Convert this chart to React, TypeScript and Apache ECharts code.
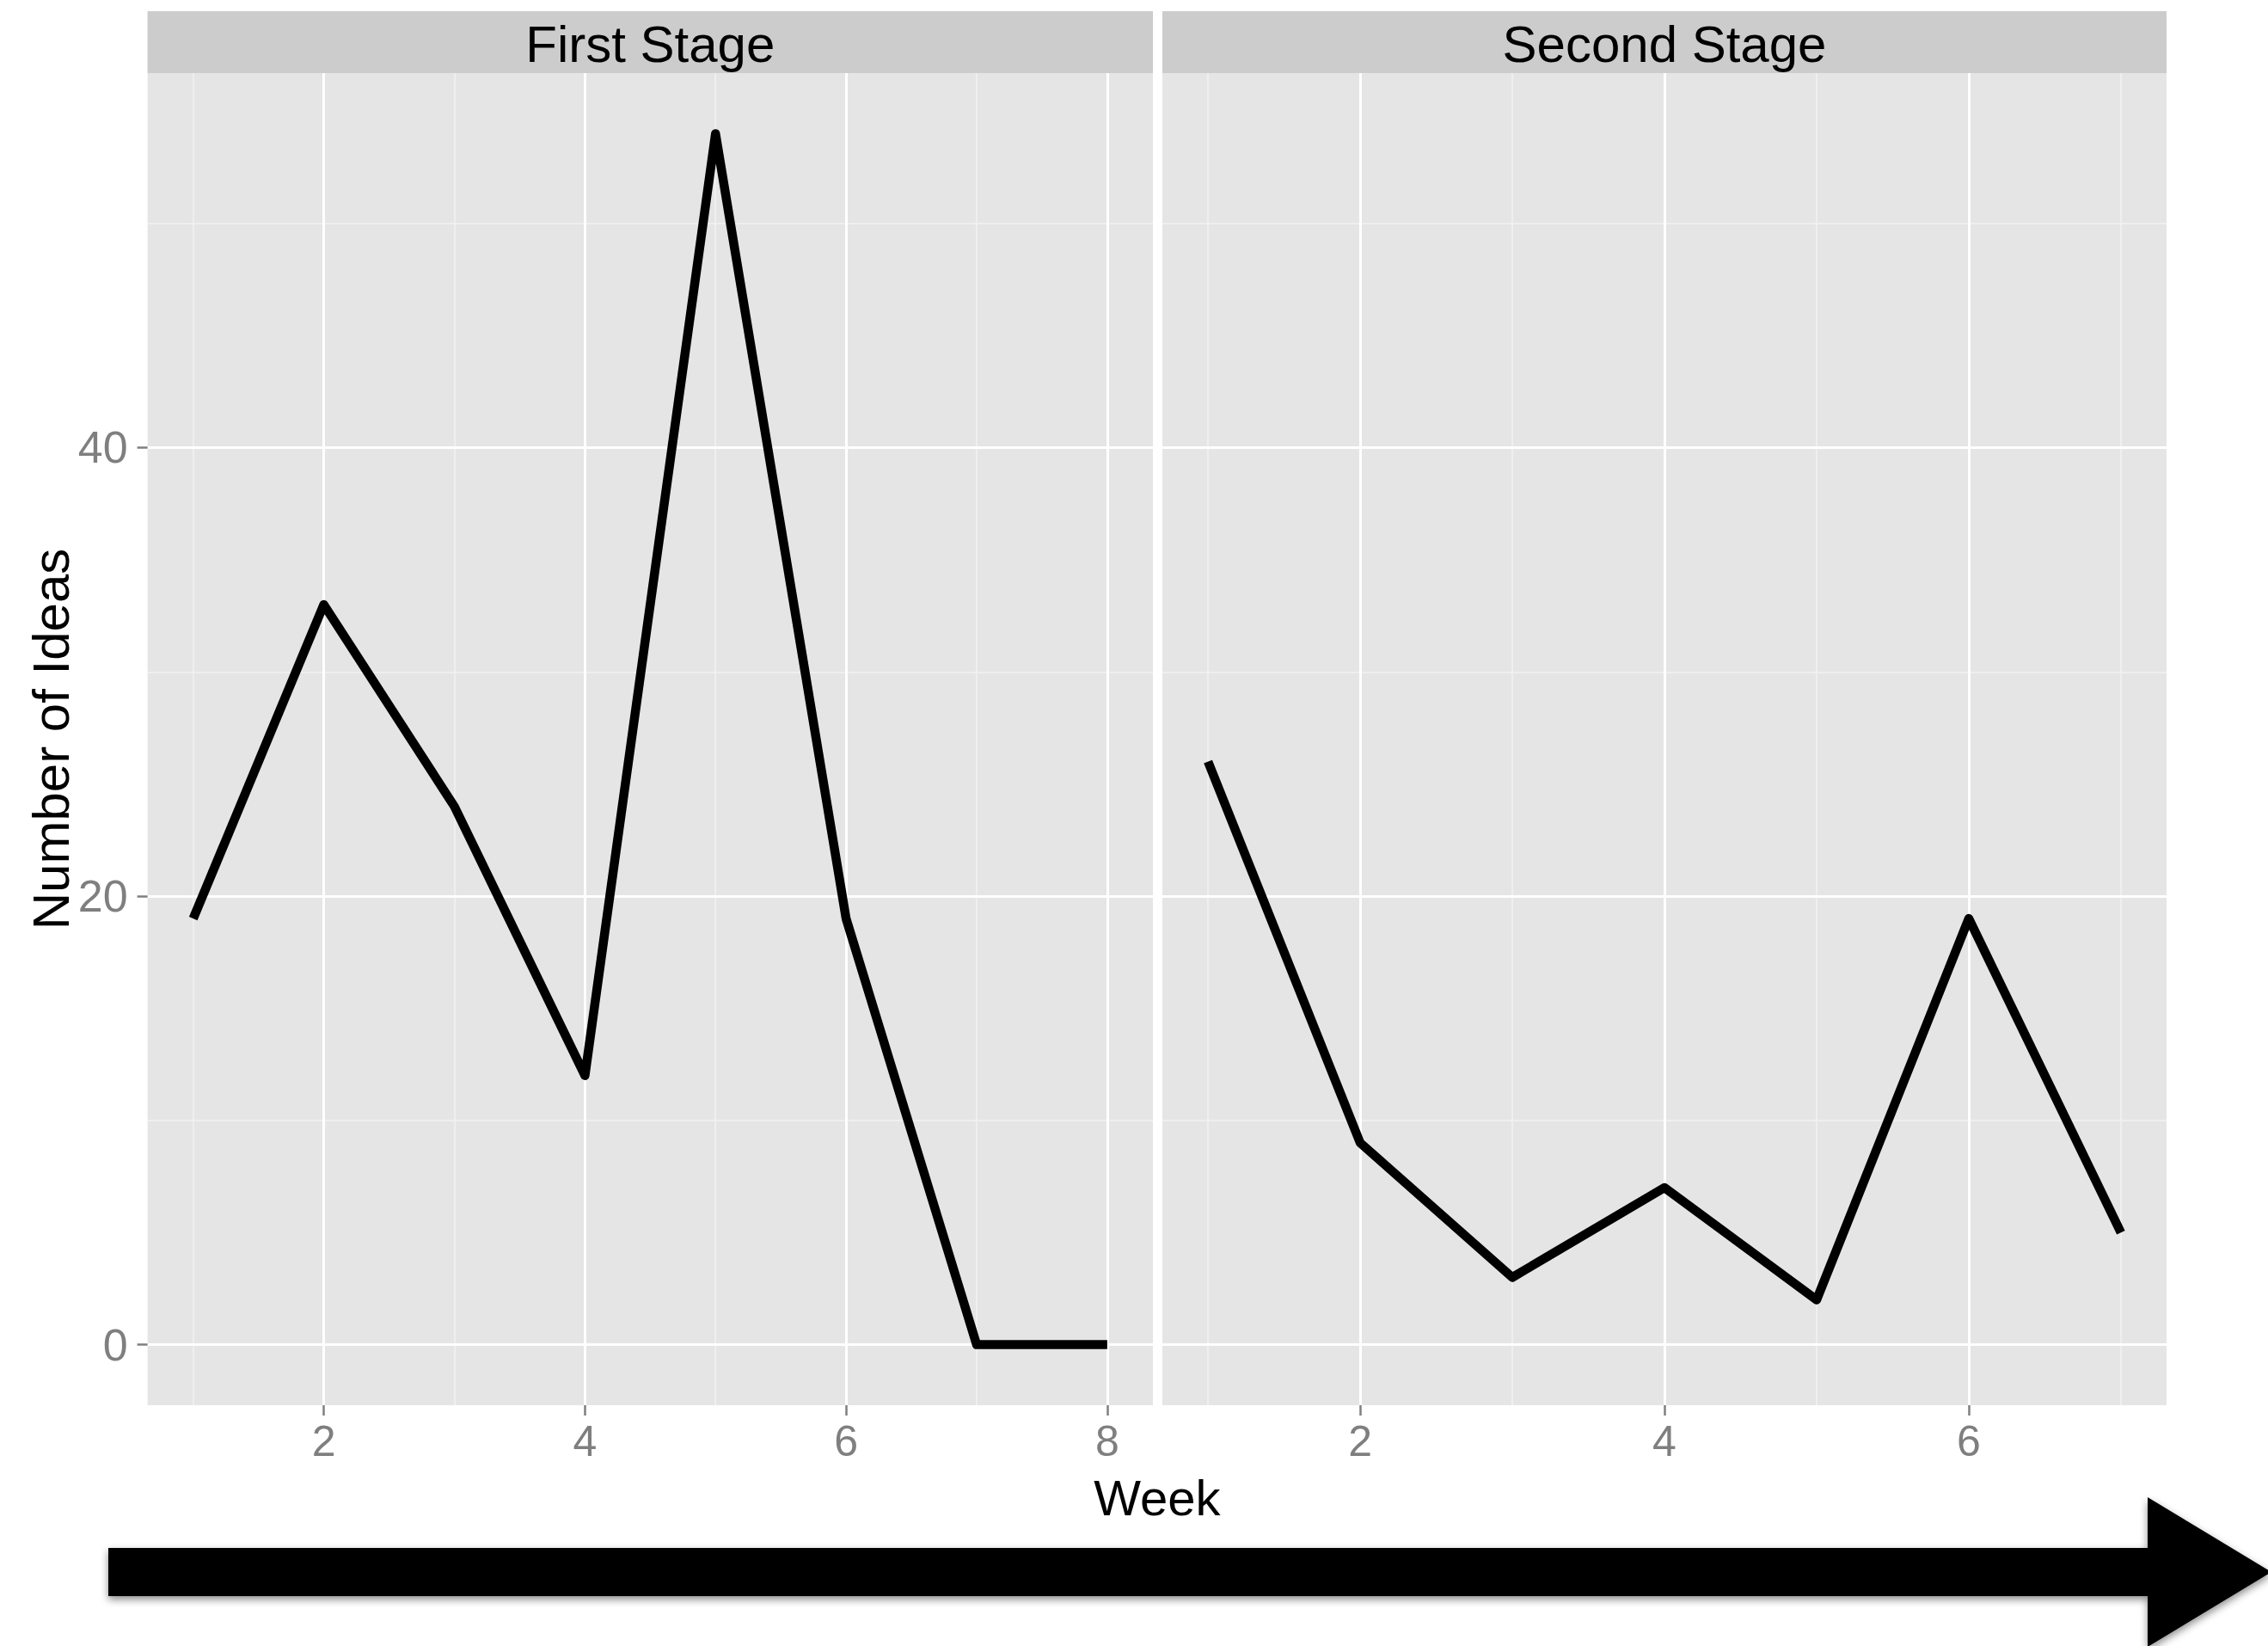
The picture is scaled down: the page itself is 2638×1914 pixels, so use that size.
import React, { useEffect, useRef } from "react";
import * as echarts from "echarts";

const W = 2638;
const H = 1914;

const panels = ["First Stage", "Second Stage"];
const weeksFirst = [1, 2, 3, 4, 5, 6, 7, 8];
const ideasFirst = [19, 33, 24, 12, 54, 19, 0, 0];
const weeksSecond = [1, 2, 3, 4, 5, 6, 7];
const ideasSecond = [26, 9, 3, 7, 2, 19, 5];

const xMajorFirst = [2, 4, 6, 8];
const xMinorFirst = [1, 3, 5, 7];
const xMajorSecond = [2, 4, 6];
const xMinorSecond = [1, 3, 5, 7];
const yMajor = [0, 20, 40];
const yMinor = [10, 30, 50];

const FONT = "'Liberation Sans', Arial, Helvetica, sans-serif";
const TICK_GREY = "#7f7f7f";

export default function App() {
  const ref = useRef<HTMLDivElement>(null);

  useEffect(() => {
    document.body.style.margin = "0";
    if (!ref.current) return;
    const chart = echarts.init(ref.current, undefined, { renderer: "svg" });

    const gridTop = 85;
    const gridH = 1549;
    const grids = [
      { left: 171.6, top: gridTop, width: 1169.4, height: gridH },
      { left: 1352, top: gridTop, width: 1168, height: gridH },
    ];
    const xRanges = [
      [0.65, 8.35],
      [0.7, 7.3],
    ];
    const yRange = [-2.7, 56.7];

    const majorLine = { show: true, lineStyle: { color: "#ffffff", width: 3 } };
    const minorLine = { show: true, lineStyle: { color: "#f2f2f2", width: 1.5 } };

    const xAxes: any[] = [];
    const yAxes: any[] = [];
    [0, 1].forEach((g) => {
      const major = g === 0 ? xMajorFirst : xMajorSecond;
      const minor = g === 0 ? xMinorFirst : xMinorSecond;
      xAxes.push({
        type: "value",
        gridIndex: g,
        position: "bottom",
        min: xRanges[g][0],
        max: xRanges[g][1],
        z: 1,
        axisLine: { show: false, onZero: false },
        axisTick: {
          show: true,
          customValues: major,
          length: 12,
          lineStyle: { color: TICK_GREY, width: 2.5 },
        },
        axisLabel: {
          show: true,
          customValues: major,
          margin: 20,
          color: TICK_GREY,
          fontSize: 50,
          lineHeight: 44,
          fontFamily: FONT,
        },
        splitLine: majorLine,
      });
      xAxes.push({
        type: "value",
        gridIndex: g,
        position: "top",
        min: xRanges[g][0],
        max: xRanges[g][1],
        z: 0,
        axisLine: { show: false, onZero: false },
        axisTick: { show: false, customValues: minor },
        axisLabel: { show: false, customValues: minor },
        splitLine: minorLine,
      });
      yAxes.push({
        type: "value",
        gridIndex: g,
        position: "left",
        min: yRange[0],
        max: yRange[1],
        z: 1,
        axisLine: { show: false, onZero: false },
        axisTick: {
          show: g === 0,
          customValues: yMajor,
          length: 12,
          lineStyle: { color: TICK_GREY, width: 2.5 },
        },
        axisLabel: {
          show: g === 0,
          customValues: yMajor,
          margin: 23,
          color: TICK_GREY,
          fontSize: 52,
          lineHeight: 44,
          fontFamily: FONT,
        },
        splitLine: majorLine,
      });
      yAxes.push({
        type: "value",
        gridIndex: g,
        position: "right",
        min: yRange[0],
        max: yRange[1],
        z: 0,
        axisLine: { show: false, onZero: false },
        axisTick: { show: false, customValues: yMinor },
        axisLabel: { show: false, customValues: yMinor },
        splitLine: minorLine,
      });
    });

    const lineStyle = { color: "#000000", width: 10.5, cap: "butt", join: "round" };

    const stripY = 13;
    const stripH = 72;

    const option: any = {
      animation: false,
      backgroundColor: "#ffffff",
      grid: grids.map((g) => ({
        ...g,
        show: true,
        backgroundColor: "#e5e5e5",
        borderWidth: 0,
        containLabel: false,
      })),
      xAxis: xAxes,
      yAxis: yAxes,
      series: [
        {
          type: "line",
          name: panels[0],
          xAxisIndex: 0,
          yAxisIndex: 0,
          z: 3,
          data: weeksFirst.map((w, i) => [w, ideasFirst[i]]),
          showSymbol: false,
          symbol: "none",
          lineStyle,
        },
        {
          type: "line",
          name: panels[1],
          xAxisIndex: 2,
          yAxisIndex: 2,
          z: 3,
          data: weeksSecond.map((w, i) => [w, ideasSecond[i]]),
          showSymbol: false,
          symbol: "none",
          lineStyle,
        },
      ],
      graphic: [
        ...grids.map((g) => ({
          type: "rect",
          shape: { x: g.left, y: stripY, width: g.width, height: stripH },
          style: { fill: "#cccccc" },
          z: 1,
        })),
        ...grids.map((g, i) => ({
          type: "text",
          x: g.left + g.width / 2,
          y: stripY + stripH / 2 + 2,
          z: 2,
          style: {
            text: panels[i],
            fill: "#000000",
            fontSize: 60,
            lineHeight: 60,
            fontFamily: FONT,
            align: "center",
            verticalAlign: "middle",
          },
        })),
        {
          type: "text",
          x: 59,
          y: gridTop + gridH / 2,
          rotation: Math.PI / 2,
          z: 2,
          style: {
            text: "Number of Ideas",
            fill: "#000000",
            fontSize: 60,
            lineHeight: 60,
            fontFamily: FONT,
            align: "center",
            verticalAlign: "middle",
          },
        },
        {
          type: "text",
          x: (grids[0].left + grids[1].left + grids[1].width) / 2,
          y: 1741,
          z: 2,
          style: {
            text: "Week",
            fill: "#000000",
            fontSize: 58,
            lineHeight: 40,
            fontFamily: FONT,
            align: "center",
            verticalAlign: "middle",
          },
        },
        {
          type: "polygon",
          z: 2,
          shape: {
            points: [
              [126, 1800],
              [2498, 1800],
              [2498, 1741],
              [2642, 1828],
              [2498, 1915],
              [2498, 1856],
              [126, 1856],
            ],
          },
          style: {
            fill: "#000000",
            shadowBlur: 10,
            shadowColor: "rgba(0,0,0,0.45)",
            shadowOffsetX: 0,
            shadowOffsetY: 4,
          },
        },
      ],
    };

    chart.setOption(option);
    return () => {
      chart.dispose();
    };
  }, []);

  return (
    <div
      ref={ref}
      style={{ position: "absolute", left: 0, top: 0, width: W, height: H, overflow: "hidden" }}
    />
  );
}
